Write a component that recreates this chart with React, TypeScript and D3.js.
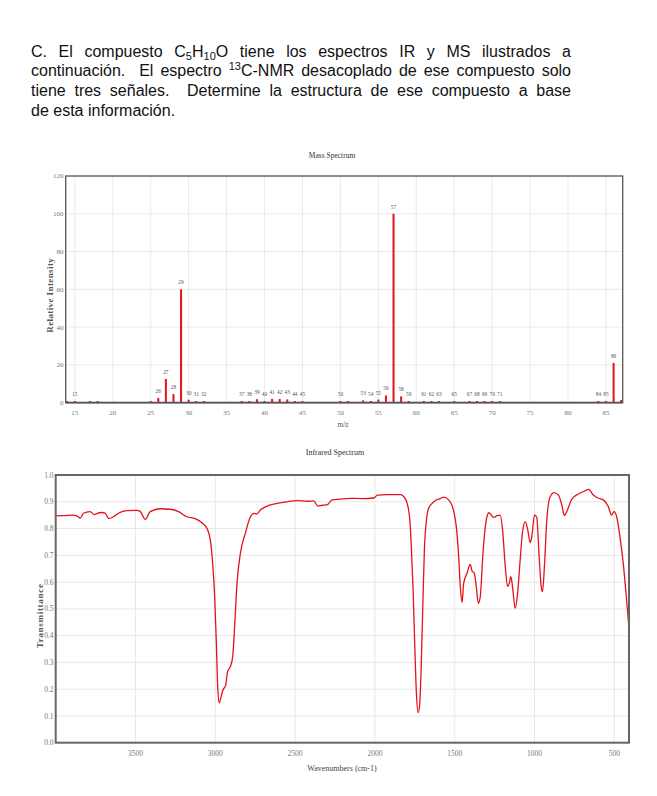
import { useEffect, useRef } from "react";
import * as d3 from "d3";

// mass spectrum peaks (m/z, relative intensity)
const msMz = [14, 15, 17, 18, 25, 26, 27, 28, 29, 30, 31, 32, 37, 38, 39, 40, 41, 42, 43, 44, 45, 50, 51, 53, 54, 55, 56, 57, 58, 59, 61, 62, 63, 65, 67, 68, 69, 70, 71, 84, 85, 86, 87];
const msIntensity = [0.4, 0.8, 0.3, 0.4, 0.3, 2.5, 12.5, 4.5, 60, 1.5, 0.5, 0.4, 0.4, 0.5, 1.8, 0.5, 2.0, 1.9, 1.7, 0.3, 0.3, 0.5, 0.5, 1.2, 0.5, 1.6, 3.8, 100, 3.3, 0.5, 0.3, 0.3, 0.3, 0.3, 0.3, 0.3, 0.3, 0.3, 0.5, 0.3, 0.8, 21, 1.4];
const msUnlabeled = [14, 17, 18, 25, 51, 87];
const msXTicks = [15, 20, 25, 30, 35, 40, 45, 50, 55, 60, 65, 70, 75, 80, 85];
const msYTicks = [0, 20, 40, 60, 80, 100, 120];

// IR spectrum trace
const irWavenumber = [3998, 3952, 3889, 3858, 3847, 3826, 3785, 3757, 3743, 3711, 3690, 3669, 3638, 3607, 3554, 3492, 3471, 3439, 3408, 3345, 3282, 3230, 3178, 3126, 3084, 3052, 3031, 3015, 3004, 2994, 2985, 2975, 2964, 2952, 2935, 2923, 2906, 2891, 2879, 2864, 2843, 2812, 2780, 2759, 2738, 2718, 2676, 2613, 2550, 2487, 2425, 2383, 2358, 2331, 2299, 2268, 2216, 2157, 2080, 2006, 1985, 1923, 1840, 1819, 1798, 1781, 1771, 1760, 1750, 1740, 1729, 1719, 1710, 1700, 1690, 1677, 1663, 1631, 1590, 1569, 1538, 1506, 1490, 1475, 1465, 1454, 1444, 1423, 1402, 1392, 1377, 1365, 1352, 1340, 1323, 1302, 1286, 1256, 1235, 1215, 1200, 1183, 1169, 1158, 1148, 1138, 1121, 1106, 1090, 1075, 1058, 1042, 1027, 1017, 1000, 986, 971, 958, 950, 938, 923, 902, 877, 850, 829, 813, 794, 767, 725, 683, 662, 631, 600, 569, 538, 517, 502, 485, 465, 444, 423, 408];
const irTransmittance = [0.847, 0.848, 0.85, 0.844, 0.838, 0.857, 0.863, 0.852, 0.856, 0.86, 0.858, 0.837, 0.844, 0.857, 0.867, 0.868, 0.864, 0.834, 0.863, 0.874, 0.872, 0.863, 0.844, 0.837, 0.822, 0.8, 0.757, 0.657, 0.545, 0.384, 0.209, 0.149, 0.172, 0.197, 0.215, 0.265, 0.284, 0.321, 0.433, 0.595, 0.707, 0.782, 0.844, 0.857, 0.855, 0.869, 0.884, 0.894, 0.9, 0.904, 0.902, 0.903, 0.884, 0.887, 0.889, 0.907, 0.91, 0.913, 0.912, 0.914, 0.925, 0.927, 0.927, 0.919, 0.894, 0.832, 0.72, 0.558, 0.359, 0.184, 0.112, 0.147, 0.284, 0.508, 0.72, 0.832, 0.876, 0.9, 0.912, 0.917, 0.907, 0.864, 0.807, 0.695, 0.583, 0.524, 0.595, 0.633, 0.666, 0.642, 0.633, 0.583, 0.521, 0.545, 0.707, 0.832, 0.859, 0.842, 0.848, 0.85, 0.794, 0.657, 0.583, 0.595, 0.62, 0.583, 0.502, 0.558, 0.682, 0.788, 0.826, 0.794, 0.747, 0.77, 0.85, 0.842, 0.695, 0.583, 0.564, 0.657, 0.832, 0.919, 0.934, 0.925, 0.888, 0.849, 0.869, 0.909, 0.929, 0.941, 0.946, 0.925, 0.913, 0.907, 0.882, 0.85, 0.863, 0.844, 0.77, 0.67, 0.533, 0.427];
const irXTicks = [3500, 3000, 2500, 2000, 1500, 1000, 500];
const irYTicks = [0, 0.1, 0.2, 0.3, 0.4, 0.5, 0.6, 0.7, 0.8, 0.9, 1.0];

type Run = [string, string?];
type Word = string | Run[];
const textLines: Word[][] = [
  ["C.", "El", "compuesto", [["C"], ["5", "sub"], ["H"], ["10", "sub"], ["O"]], "tiene", "los", "espectros", "IR", "y", "MS", "ilustrados", "a"],
  ["continuación.", "El", "espectro", [["13", "sup"], ["C-NMR"]], "desacoplado", "de", "ese", "compuesto", "solo"],
  ["tiene", "tres", "señales.", "Determine", "la", "estructura", "de", "ese", "compuesto", "a", "base"],
  ["de esta información."],
];

const RED = "#e3121b";
const serif = "'Liberation Serif', 'Times New Roman', serif";

export default function App() {
  const ref = useRef<SVGSVGElement>(null);

  useEffect(() => {
    const svg = d3.select(ref.current);
    svg.selectAll("*").remove();

    // ---- paragraph ----
    const para = svg.append("g")
      .attr("font-family", "'Liberation Sans', Arial, sans-serif")
      .attr("font-size", 16)
      .attr("fill", "#111");
    const left = 31, width = 540;
    textLines.forEach((words, li) => {
      const y = 56.7 + li * 19.67;
      const nodes = words.map((w) => {
        const t = para.append("text").attr("y", y);
        if (typeof w === "string") t.text(w);
        else {
          let shift = 0;
          w.forEach(([s, kind]) => {
            const target = kind === "sub" ? 3.5 : kind === "sup" ? -6 : 0;
            t.append("tspan")
              .attr("dy", target - shift)
              .attr("font-size", kind ? 11 : 16)
              .text(s);
            shift = target;
          });
        }
        return t;
      });
      if (li === textLines.length - 1) {
        nodes[0].attr("x", left);
        return;
      }
      const widths = nodes.map((t) => (t.node() as SVGTextElement).getComputedTextLength());
      const weights = words.slice(0, -1).map((w) => (typeof w === "string" && w.length > 2 && w.endsWith(".") ? 2 : 1));
      const gap = (width - d3.sum(widths)) / d3.sum(weights);
      let x = left;
      nodes.forEach((t, i) => {
        t.attr("x", x);
        x += widths[i] + (i < weights.length ? weights[i] * gap : 0);
      });
    });

    // ---- mass spectrum ----
    const msX = d3.scaleLinear().domain([13.8, 87.2]).range([65.7, 622.7]);
    const msY = d3.scaleLinear().domain([0, 120]).range([402.6, 176]);
    const ms = svg.append("g");

    ms.append("text").attr("x", 332).attr("y", 158).attr("text-anchor", "middle")
      .attr("font-family", serif).attr("font-size", 7.5).attr("fill", "#333").text("Mass Spectrum");

    ms.append("g").selectAll("line.v").data(msXTicks).join("line")
      .attr("x1", (d) => msX(d)).attr("x2", (d) => msX(d))
      .attr("y1", msY(120)).attr("y2", msY(0))
      .attr("stroke", "#e4e4e4").attr("stroke-width", 0.8);
    ms.append("g").selectAll("line.h").data(msYTicks.slice(1, -1)).join("line")
      .attr("x1", msX.range()[0]).attr("x2", msX.range()[1])
      .attr("y1", (d) => msY(d)).attr("y2", (d) => msY(d))
      .attr("stroke", "#e4e4e4").attr("stroke-width", 0.8);

    ms.append("g").selectAll("text").data(msXTicks).join("text")
      .attr("x", (d) => msX(d)).attr("y", 414.5).attr("text-anchor", "middle")
      .attr("font-family", serif).attr("font-size", 7).attr("fill", "#777").text((d) => d);
    ms.append("g").selectAll("text").data(msYTicks).join("text")
      .attr("x", 63.5).attr("y", (d) => msY(d)).attr("dy", "0.35em").attr("text-anchor", "end")
      .attr("font-family", serif).attr("font-size", 7).attr("fill", "#777").text((d) => d);

    ms.append("g").selectAll("rect").data(msMz).join("rect")
      .attr("x", (d) => msX(d) - 1)
      .attr("width", 2)
      .attr("y", (d, i) => Math.min(msY(msIntensity[i]), msY(0) - 1.6))
      .attr("height", (d, i) => Math.max(msY(0) - msY(msIntensity[i]), 1.6))
      .attr("fill", RED);

    ms.append("g").selectAll("text").data(msMz.filter((d) => !msUnlabeled.includes(d))).join("text")
      .attr("x", (d) => msX(d))
      .attr("y", (d) => Math.min(msY(msIntensity[msMz.indexOf(d)]), msY(0) - 1.6) - 5)
      .attr("text-anchor", "middle")
      .attr("font-family", serif).attr("font-size", 5.4).attr("fill", "#555").text((d) => d);

    ms.append("rect")
      .attr("x", msX.range()[0]).attr("y", msY(120))
      .attr("width", msX.range()[1] - msX.range()[0]).attr("height", msY(0) - msY(120))
      .attr("fill", "none").attr("stroke", "#555").attr("stroke-width", 1.3);
    ms.append("line")
      .attr("x1", msX.range()[0]).attr("x2", msX.range()[1])
      .attr("y1", msY(0)).attr("y2", msY(0))
      .attr("stroke", "#555").attr("stroke-width", 1.8);

    ms.append("text").attr("x", 343).attr("y", 427).attr("text-anchor", "middle")
      .attr("font-family", serif).attr("font-size", 7.5).attr("fill", "#555").text("m/z");
    ms.append("text")
      .attr("transform", `translate(52.5,${(msY(0) + msY(120)) / 2 + 6}) rotate(-90)`)
      .attr("text-anchor", "middle")
      .attr("font-family", serif).attr("font-size", 9).attr("font-weight", "bold")
      .attr("letter-spacing", 0.4).attr("fill", "#555").text("Relative Intensity");

    // ---- infrared spectrum ----
    const irX = d3.scaleLinear().domain([4000, 408]).range([55.7, 629]);
    const irY = d3.scaleLinear().domain([0, 1]).range([742.7, 475]);
    const ir = svg.append("g");

    ir.append("text").attr("x", 335).attr("y", 454.5).attr("text-anchor", "middle")
      .attr("font-family", serif).attr("font-size", 8).attr("fill", "#333").text("Infrared Spectrum");

    ir.append("g").selectAll("line").data(irXTicks).join("line")
      .attr("x1", (d) => irX(d)).attr("x2", (d) => irX(d))
      .attr("y1", irY(1)).attr("y2", irY(0))
      .attr("stroke", "#e2e2e2").attr("stroke-width", 0.8);
    ir.append("g").selectAll("line").data(irYTicks.slice(1, -1)).join("line")
      .attr("x1", irX.range()[0]).attr("x2", irX.range()[1])
      .attr("y1", (d) => irY(d)).attr("y2", (d) => irY(d))
      .attr("stroke", "#e2e2e2").attr("stroke-width", 0.8);

    ir.append("g").selectAll("text").data(irXTicks).join("text")
      .attr("x", (d) => irX(d)).attr("y", 755.5).attr("text-anchor", "middle")
      .attr("font-family", serif).attr("font-size", 7.5).attr("fill", "#777").text((d) => d);
    ir.append("g").selectAll("text").data(irYTicks).join("text")
      .attr("x", 53.5).attr("y", (d) => irY(d)).attr("dy", "0.35em").attr("text-anchor", "end")
      .attr("font-family", serif).attr("font-size", 7.5).attr("fill", "#777").text((d) => d.toFixed(1));

    svg.append("defs").append("clipPath").attr("id", "irclip").append("rect")
      .attr("x", irX.range()[0]).attr("y", irY(1))
      .attr("width", irX.range()[1] - irX.range()[0]).attr("height", irY(0) - irY(1));

    const line = d3.line<number>()
      .x((d, i) => irX(irWavenumber[i]))
      .y((d) => irY(d))
      .curve(d3.curveMonotoneX);
    ir.append("path").attr("d", line(irTransmittance))
      .attr("clip-path", "url(#irclip)")
      .attr("fill", "none").attr("stroke", RED).attr("stroke-width", 1.3);

    ir.append("rect")
      .attr("x", irX.range()[0]).attr("y", irY(1))
      .attr("width", irX.range()[1] - irX.range()[0]).attr("height", irY(0) - irY(1))
      .attr("fill", "none").attr("stroke", "#666").attr("stroke-width", 2);

    ir.append("text").attr("x", 342).attr("y", 771).attr("text-anchor", "middle")
      .attr("font-family", serif).attr("font-size", 8).attr("fill", "#444").text("Wavenumbers (cm-1)");
    ir.append("text")
      .attr("transform", `translate(43,${(irY(0) + irY(1)) / 2 + 7}) rotate(-90)`)
      .attr("text-anchor", "middle")
      .attr("font-family", serif).attr("font-size", 9).attr("font-weight", "bold")
      .attr("letter-spacing", 0.7).attr("fill", "#555").text("Transmittance");
  }, []);

  return (
    <svg
      ref={ref}
      width={657}
      height={796}
      style={{ position: "absolute", left: 0, top: 0, background: "#fff" }}
    />
  );
}
